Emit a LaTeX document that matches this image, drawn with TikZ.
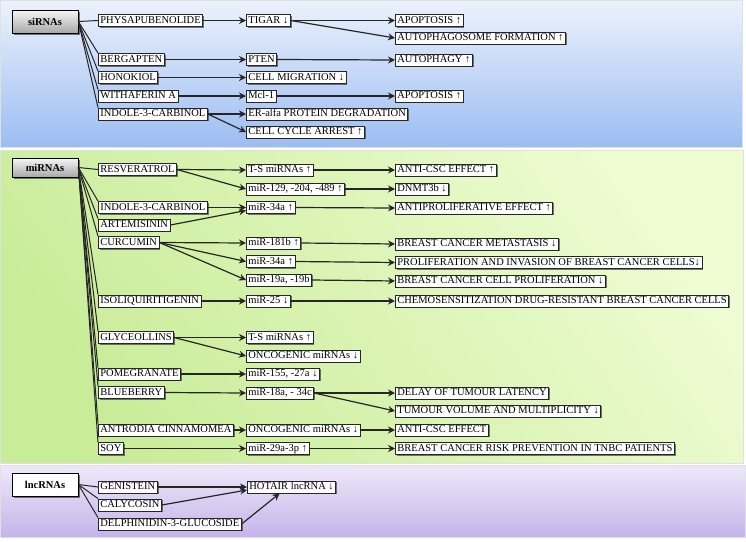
\documentclass[tikz,border=0pt]{standalone}
\usepackage{fontspec}
\setmainfont{Liberation Serif}
\usetikzlibrary{arrows.meta, shadows}
\definecolor{bluetop}{RGB}{236, 242, 252}
\definecolor{bluebot}{RGB}{156, 189, 242}
\definecolor{greenleft}{RGB}{200, 236, 152}
\definecolor{greenright}{RGB}{238, 252, 210}
\definecolor{purpletop}{RGB}{238, 233, 249}
\definecolor{purplebot}{RGB}{196, 180, 234}
\definecolor{hdrtop}{RGB}{246, 246, 246}
\definecolor{hdrbot}{RGB}{168, 168, 168}

\begin{document}
\begin{tikzpicture}[x=1pt, y=-1pt,
    box/.style={draw=black!85, line width=0.8pt, fill=white, anchor=west, inner xsep=2pt, inner ysep=1.3pt,
        text height=7.4pt, text depth=2pt, font=\fontsize{10.5}{12}\selectfont,
        drop shadow={shadow xshift=1.3pt, shadow yshift=-1.3pt, fill=black!80, opacity=0.65}},
    rnabox/.style={draw=black, line width=0.8pt, fill=white, minimum width=66pt, font=\bfseries\fontsize{10.5}{12}\selectfont,
        drop shadow={shadow xshift=1.5pt, shadow yshift=-1.5pt, fill=black!80, opacity=0.65}},
    greyed/.style={top color=hdrtop, bottom color=hdrbot},
    tie/.style={line width=1pt, draw=black!85},
    arrow/.style={-{Stealth[length=7pt, width=7pt]}, line width=1.2pt, draw=black!85}
]
    \useasboundingbox (0,0) rectangle (746,541);

    % Panels
    \shade[top color=bluetop, bottom color=bluebot, draw=black!12] (0,0) rectangle (742,147);
    \shade[left color=greenleft, right color=greenright, shading angle=125, draw=black!12] (0,150) rectangle (743,463);
    \shade[top color=purpletop, bottom color=purplebot, draw=black!12] (0,465) rectangle (745,537);

    % siRNAs
    \node[rnabox, greyed, minimum height=23pt] (sirna) at (45,21.5) {siRNAs};
    \node[box] (physa) at (98,20.5) {PHYSAPUBENOLIDE};
    \node[box] (tigar) at (246,20.5) {TIGAR ↓};
    \node[box] (apop1) at (395,20.5) {APOPTOSIS ↑};
    \node[box] (autosome) at (395,38) {AUTOPHAGOSOME FORMATION ↑};
    \node[box] (bergap) at (98,59.5) {BERGAPTEN};
    \node[box] (pten) at (246,59.5) {PTEN};
    \node[box] (autoph) at (395,60) {AUTOPHAGY ↑};
    \node[box] (honok) at (98,77.5) {HONOKIOL};
    \node[box] (migr) at (246,77.5) {CELL MIGRATION ↓};
    \node[box] (witha) at (98,96) {WITHAFERIN A};
    \node[box] (mcl) at (246,96) {Mcl-1};
    \node[box] (apop2) at (395,96) {APOPTOSIS ↑};
    \node[box] (indole1) at (98,114) {INDOLE-3-CARBINOL};
    \node[box] (eralfa) at (246,114) {ER-alfa PROTEIN DEGRADATION};
    \node[box] (cycle) at (246,132) {CELL CYCLE ARREST ↑};

    % miRNAs
    \node[rnabox, greyed, minimum height=19pt] (mirna) at (45,167.5) {miRNAs};
    \node[box] (resv) at (98,169.5) {RESVERATROL};
    \node[box] (ts1) at (246,170) {T-S miRNAs ↑};
    \node[box] (mir129) at (246,189) {miR-129, -204, -489 ↑};
    \node[box] (anticsc1) at (395,170) {ANTI-CSC EFFECT ↑};
    \node[box] (dnmt) at (395,189) {DNMT3b ↓};
    \node[box] (indole2) at (98,207.5) {INDOLE-3-CARBINOL};
    \node[box] (mir34a1) at (246,207.5) {miR-34a ↑};
    \node[box] (antiprol) at (395,208) {ANTIPROLIFERATIVE EFFECT ↑};
    \node[box] (artem) at (98,225) {ARTEMISININ};
    \node[box] (curc) at (98,242.5) {CURCUMIN};
    \node[box] (mir181) at (246,243) {miR-181b ↑};
    \node[box] (metast) at (395,244) {BREAST CANCER METASTASIS ↓};
    \node[box] (mir34a2) at (246,261.5) {miR-34a ↑};
    \node[box] (invas) at (395,262.5) {PROLIFERATION AND INVASION OF BREAST CANCER CELLS↓};
    \node[box] (mir19) at (246,280) {miR-19a, -19b};
    \node[box] (prolif) at (395,281) {BREAST CANCER CELL PROLIFERATION ↓};
    \node[box] (isoliq) at (98,301) {ISOLIQUIRITIGENIN};
    \node[box] (mir25) at (246,301) {miR-25 ↓};
    \node[box] (chemo) at (395,301) {CHEMOSENSITIZATION DRUG-RESISTANT BREAST CANCER CELLS};
    \node[box] (glyc) at (98,337.5) {GLYCEOLLINS};
    \node[box] (ts2) at (246,337.5) {T-S miRNAs ↑};
    \node[box] (oncog1) at (246,356) {ONCOGENIC miRNAs ↓};
    \node[box] (pomeg) at (98,374) {POMEGRANATE};
    \node[box] (mir155) at (246,374) {miR-155, -27a ↓};
    \node[box] (blueb) at (98,392.5) {BLUEBERRY};
    \node[box] (mir18) at (246,393) {miR-18a, - 34c};
    \node[box] (delay) at (395,393) {DELAY OF TUMOUR LATENCY};
    \node[box] (tumvol) at (395,411) {TUMOUR VOLUME AND MULTIPLICITY ↓};
    \node[box] (antrod) at (98,430) {ANTRODIA CINNAMOMEA};
    \node[box] (oncog2) at (246,430) {ONCOGENIC miRNAs ↓};
    \node[box] (anticsc2) at (395,430) {ANTI-CSC EFFECT};
    \node[box] (soy) at (98,448.5) {SOY};
    \node[box] (mir29) at (246,448.5) {miR-29a-3p ↑};
    \node[box] (risk) at (395,448.5) {BREAST CANCER RISK PREVENTION IN TNBC PATIENTS};

    % lncRNAs
    \node[rnabox, minimum height=23pt] (lnc) at (45,484.5) {lncRNAs};
    \node[box] (genist) at (98,487) {GENISTEIN};
    \node[box] (calyc) at (98,505) {CALYCOSIN};
    \node[box] (delph) at (98,524) {DELPHINIDIN-3-GLUCOSIDE};
    \node[box] (hotair) at (247,487) {HOTAIR lncRNA ↓};

    % Group to compound
    \draw[tie] (sirna.east) -- (physa.west);
    \foreach \d in {bergap,honok,witha,indole1}
        \draw[tie] (sirna.east) -- (\d.north west);
    \draw[tie] (mirna.east) -- (resv.west);
    \foreach \d in {indole2,artem,curc,isoliq,glyc,pomeg,blueb,antrod,soy}
        \draw[tie] (mirna.east) -- (\d.north west);
    \draw[tie] (lnc.east) -- (genist.west);
    \foreach \d in {calyc,delph}
        \draw[tie] (lnc.east) -- (\d.north west);

    % Effects
    \foreach \a/\b in {physa/tigar, tigar/apop1, tigar/autosome, bergap/pten, pten/autoph,
        honok/migr, witha/mcl, mcl/apop2, indole1/eralfa, indole1/cycle,
        resv/ts1, resv/mir129, ts1/anticsc1, mir129/dnmt, indole2/mir34a1, mir34a1/antiprol,
        curc/mir181, curc/mir34a2, curc/mir19, mir181/metast, mir34a2/invas, mir19/prolif,
        isoliq/mir25, mir25/chemo, glyc/ts2, glyc/oncog1, pomeg/mir155,
        blueb/mir18, mir18/delay, mir18/tumvol, antrod/oncog2, oncog2/anticsc2,
        soy/mir29, mir29/risk, genist/hotair}
        \draw[arrow] (\a.east) -- (\b.west);
    \draw[arrow] (artem.east) -- ([yshift=-3pt]mir34a1.west);
    \draw[arrow] (calyc.east) -- ([yshift=-3pt]hotair.west);
    \draw[arrow] (delph.east) -- ([xshift=-12pt]hotair.south);
\end{tikzpicture}
\end{document}
